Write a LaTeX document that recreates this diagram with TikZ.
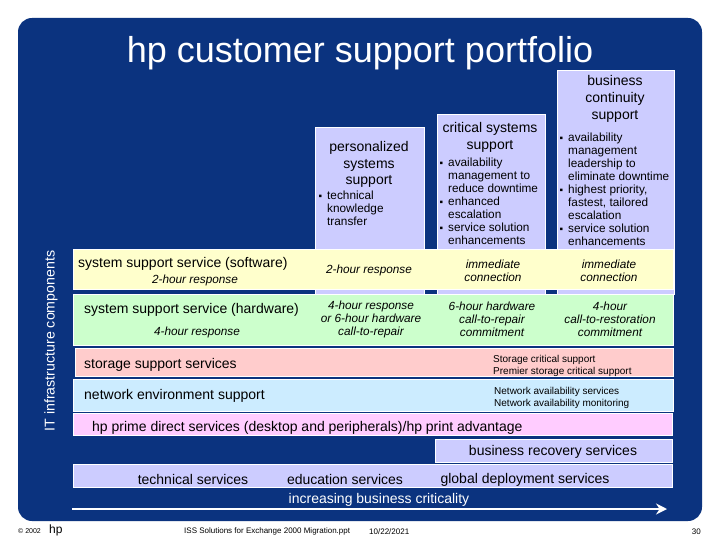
\documentclass[tikz,border=0pt]{standalone}
\usepackage{fontspec}
\setmainfont{Liberation Sans}
\usepackage{xcolor}
\usetikzlibrary{positioning,arrows.meta}
\definecolor{slidenavy}{HTML}{0B337F}
\definecolor{lavender}{HTML}{CCCCFF}
\definecolor{softyellow}{HTML}{FFFFCC}
\definecolor{softgreen}{HTML}{CCFFCC}
\definecolor{softred}{HTML}{FFCCCC}
\definecolor{softblue}{HTML}{CCECFF}
\definecolor{softpink}{HTML}{FFCCFF}
\newcommand{\itm}{\llap{\fontsize{10}{10}\selectfont ▪\hspace{5pt}}}
\tikzset{
  band/.style={draw=white, line width=0.6pt, anchor=north west, inner sep=0pt},
  head/.style={align=center, inner sep=0pt, yshift=-1.5pt, font=\fontsize{14}{16.7}\selectfont},
  bullets/.style={align=left, anchor=north west, inner sep=0pt, yshift=-1.5pt, font=\fontsize{11.8}{13}\selectfont},
  row/.style={inner sep=0pt, yshift=-1.5pt, font=\fontsize{14}{16}\selectfont},
  resp/.style={align=center, inner sep=0pt, yshift=-1.5pt, font=\fontsize{11.8}{13}\selectfont\itshape},
  tiny/.style={align=left, anchor=west, inner sep=0pt, yshift=-1.5pt, font=\fontsize{10}{12}\selectfont},
  foot/.style={inner sep=0pt, font=\fontsize{8}{9}\selectfont}
}
\begin{document}
\begin{tikzpicture}[x=1pt, y=-1pt]
  \useasboundingbox (0,0) rectangle (720,540);
  \fill[white] (0,0) rectangle (720,540);
  \fill[slidenavy, rounded corners=14pt] (18,18) rectangle (702,521);
  \node[inner sep=0pt, text=white, font=\fontsize{36}{40}\selectfont] (title) at (360,53) {hp customer support portfolio};
  % the three columns run behind the yellow and green rows
  \node[band, fill=lavender, minimum width=109pt, minimum height=167pt] (personal) at (315,127) {};
  \node[band, fill=lavender, minimum width=108pt, minimum height=180pt] (critical) at (437,114) {};
  \node[band, fill=lavender, minimum width=117pt, minimum height=224pt] (continuity) at (557,70) {};
  \node[head] (personalhead) at (369,163) {personalized\\systems\\support};
  \node[head] (criticalhead) at (490,136) {critical systems\\support};
  \node[head] (continuityhead) at (615,97.5) {business\\continuity\\support};
  \node[bullets] (personallist) at (327,189.5) {\itm technical\\knowledge\\transfer};
  \node[bullets] (criticallist) at (448,156.5) {\itm availability\\management to\\reduce downtime\\\itm enhanced\\escalation\\\itm service solution\\enhancements};
  \node[bullets] (continuitylist) at (568,131.5) {\itm availability\\management\\leadership to\\eliminate downtime\\\itm highest priority,\\fastest, tailored\\escalation\\\itm service solution\\enhancements};
  % rows
  \node[band, fill=softyellow, minimum width=600pt, minimum height=40pt] (software) at (73,249) {};
  \node[band, fill=softgreen, minimum width=600pt, minimum height=51pt] (hardware) at (73,294) {};
  \node[band, fill=softred, minimum width=598.5pt, minimum height=28pt] (storage) at (74.5,348) {};
  \node[band, fill=softblue, minimum width=600pt, minimum height=32pt] (network) at (73,379) {};
  \node[band, fill=softpink, minimum width=599pt, minimum height=22pt] (prime) at (73,413) {};
  \node[band, fill=lavender, minimum width=237pt, minimum height=23pt] (recovery) at (435,439) {};
  \node[band, fill=lavender, minimum width=599pt, minimum height=23pt] (technical) at (73,464) {};
  \node[row, anchor=west] (softwarename) at (78,262) {system support service (software)};
  \node[resp] (softwaretime) at (195,279) {2-hour response};
  \node[resp] (softwarepersonal) at (369,269) {2-hour response};
  \node[resp] (softwarecritical) at (493,269.5) {immediate\\connection};
  \node[resp] (softwarecontinuity) at (609,269.5) {immediate\\connection};
  \node[row, anchor=west] (hardwarename) at (84,308) {system support service (hardware)};
  \node[resp] (hardwaretime) at (197,331) {4-hour response};
  \node[resp] (hardwarepersonal) at (371,318) {4-hour response\\or 6-hour hardware\\call-to-repair};
  \node[resp] (hardwarecritical) at (492,318) {6-hour hardware\\call-to-repair\\commitment};
  \node[resp] (hardwarecontinuity) at (610,318) {4-hour\\call-to-restoration\\commitment};
  \node[row, anchor=west] (storagename) at (84,363) {storage support services};
  \node[tiny] (storagelist) at (493,364.5) {Storage critical support\\Premier storage critical support};
  \node[row, anchor=west] (networkname) at (84,394) {network environment support};
  \node[tiny] (networklist) at (494,396) {Network availability services\\Network availability monitoring};
  \node[row, anchor=west] (primename) at (92,426) {hp prime direct services (desktop and peripherals)/hp print advantage};
  \node[row] (recoveryname) at (553,450) {business recovery services};
  \node[row] (technicalname) at (193,478) {technical services};
  \node[row] (educationname) at (345,478) {education services};
  \node[row] (deploymentname) at (525,478) {global deployment services};
  \node[row, text=white] (increasing) at (379,498) {increasing business criticality};
  \node[inner sep=0pt, text=white, rotate=90, font=\fontsize{14.2}{16}\selectfont] (components) at (51,341) {IT infrastructure components};
  \coordinate (arrowstart) at (72,509);
  \coordinate (arrowend) at (667,509);
  \draw[white, line width=2.4pt, -{Stealth[length=11pt, width=11pt]}] (arrowstart) -- (arrowend);
  % footer
  \node[foot, anchor=west, font=\fontsize{7}{8}\selectfont] (copyright) at (18,531.5) {© 2002};
  \node[inner sep=0pt, anchor=west, font=\fontsize{12}{13}\selectfont] (hplogo) at (49,530.5) {hp};
  \node[foot, anchor=west] (filename) at (184,531.5) {ISS Solutions for Exchange 2000 Migration.ppt};
  \node[foot, anchor=west] (datestamp) at (369,531.5) {10/22/2021};
  \node[foot, anchor=east] (pagenumber) at (701,531.5) {30};
\end{tikzpicture}
\end{document}
